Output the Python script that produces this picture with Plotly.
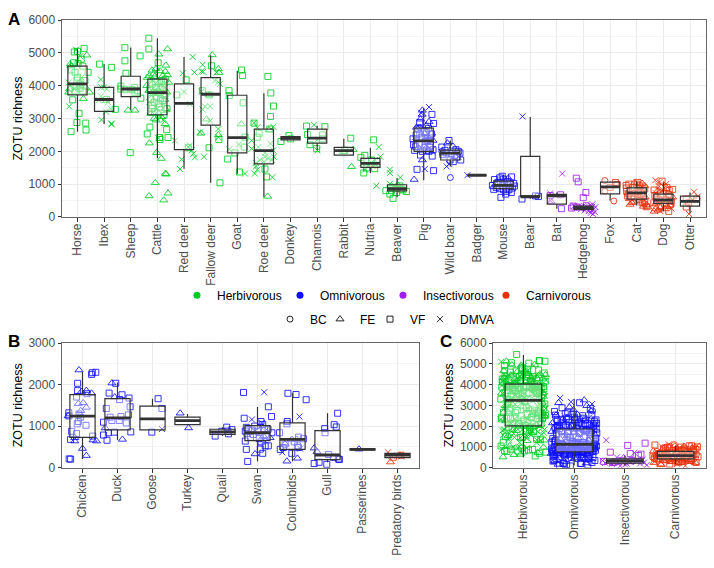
import plotly.graph_objects as go

# ---- panel categories ----
CATS_A = ["Horse", "Ibex", "Sheep", "Cattle", "Red deer", "Fallow deer", "Goat", "Roe deer",
          "Donkey", "Chamois", "Rabbit", "Nutria", "Beaver", "Pig", "Wild boar", "Badger",
          "Mouse", "Bear", "Bat", "Hedgehog", "Fox", "Cat", "Dog", "Otter"]
DIET_A = ["H"] * 13 + ["O"] * 5 + ["I"] * 2 + ["C"] * 4
CATS_B = ["Chicken", "Duck", "Goose", "Turkey", "Quail", "Swan", "Columbids", "Gull",
          "Passerines", "Predatory birds"]
DIET_B = ["O"] * 9 + ["C"]
CATS_C = ["Herbivorous", "Omnivorous", "Insectivorous", "Carnivorous"]
DIET_KEYS = ["H", "O", "I", "C"]

# ---- samples per host: (horizontal jitter in category units, ZOTU richness) ----
horse = dict(
    VF=[(-.12, 5030), (0, 5050), (.25, 5140), (.14, 4810), (.02, 4680), (-.24, 2600), (.32, 2650), (.31, 2860),
        (-.02, 2880), (.06, 3160), (-.18, 3570), (.4, 4410), (0, 4260), (-.02, 4170), (-.09, 4410), (.2, 3840),
        (-.09, 3840), (.1, 3920), (-.05, 3980), (.12, 4050), (.28, 4160), (-.22, 4480), (.2, 4600), (-.15, 4700)],
    FE=[(.35, 4930), (-.27, 4660), (-.33, 3800), (.45, 3800), (.22, 3600), (-.25, 4600), (.3, 3950), (-.3, 3900)],
    DMVA=[(-.31, 3370), (-.05, 5100), (-.33, 4100), (-.27, 4000), (.04, 4050), (-.12, 3900), (.15, 4250), (.1, 4900)])
ibex = dict(
    VF=[(-.17, 4660), (.28, 4560), (.09, 3580), (.42, 3280)],
    DMVA=[(-.1, 2960), (-.12, 3680), (-.2, 3560), (-.1, 3950), (0, 3950), (-.12, 4190), (.03, 3560), (.1, 3900),
          (.15, 3500), (.07, 3210), (.27, 2850), (.28, 2820), (.25, 3300)])
sheep = dict(
    VF=[(-.22, 5160), (-.22, 4760), (.35, 4910), (-.18, 4380), (-.37, 3990), (-.37, 3900), (.15, 3950), (-.22, 3880),
        (.38, 3620), (.15, 3800), (.05, 3880), (-.02, 1960), (.25, 3850)],
    FE=[(-.1, 3250), (.16, 3250)],
    DMVA=[(.02, 3880), (-.08, 3900)])
cattle = dict(
    VF=[(-.32, 5450), (-.32, 5120), (.03, 4700), (-.28, 2740), (-.38, 2530), (.36, 3300), (.35, 2660), (.4, 2420),
        (.08, 2420), (.1, 2360), (-.1, 3200), (.25, 3100), (.28, 3700), (.2, 3550), (-.2, 3300), (-.25, 3600),
        (-.12, 3500), (-.05, 3650), (.05, 3450), (.12, 3600), (-.15, 3800), (-.05, 3950), (.02, 3800), (.1, 3900),
        (.2, 3950), (-.2, 4050), (.3, 4200), (-.08, 4120), (.15, 4150), (-.2, 3400), (.08, 3350), (-.28, 3900)],
    FE=[(.38, 5120), (.05, 4960), (.32, 4620), (-.2, 4470), (-.05, 4520), (.1, 4450), (.3, 4430), (-.3, 4300),
        (.38, 4330), (-.38, 4250), (-.1, 4280), (.2, 4300), (.42, 4100), (-.4, 4000), (-.32, 3850), (.35, 3800),
        (.28, 3580), (.3, 3300), (.15, 3050), (.29, 2840), (-.05, 2950), (-.3, 2250), (-.03, 1960), (.15, 1780),
        (.3, 1320), (.33, 1300), (-.08, 1040), (.4, 720), (-.31, 640), (.24, 510), (-.15, 4350), (.05, 4080),
        (-.25, 3150), (.05, 3150), (-.12, 3000), (.22, 3900)],
    DMVA=[(-.18, 4150), (.08, 4200), (-.05, 3750), (.18, 3700), (-.3, 3500), (.25, 3450), (0, 3300), (-.14, 3220),
          (.12, 3050), (.22, 2950), (.04, 2400), (-.1, 3850), (.12, 4050), (-.22, 3700), (.3, 3950)])
red_deer = dict(
    VF=[(.08, 4180), (-.27, 3720), (.16, 2110)],
    DMVA=[(.325, 4880), (-.05, 4380), (.39, 4410), (0, 3820), (.22, 3450), (-.34, 2330), (.22, 2180), (.16, 2130),
          (.29, 2030), (.41, 1815), (-.09, 1755), (-.15, 1460), (.35, 1930)])
fallow_deer = dict(
    VF=[(.03, 4610), (-.05, 3720), (.31, 2360), (-.06, 2110), (.35, 1040), (-.31, 3850)],
    FE=[(.06, 4940), (.29, 4510), (.31, 4400), (-.15, 2980), (-.36, 2550), (-.06, 3720), (.29, 2500)],
    DMVA=[(-.3, 4640), (-.34, 4440), (-.28, 4430), (.22, 4410), (.16, 4160), (.29, 4110), (.35, 4060), (-.34, 3820),
          (-.21, 3370), (-.02, 3370), (-.3, 3270), (-.02, 2930), (-.4, 2580), (-.25, 1835), (.29, 2680), (.29, 2430)])
goat = dict(
    VF=[(.16, 4480), (.2, 4310), (-.31, 3850), (-.3, 3700), (.22, 3480), (-.36, 1765), (-.09, 1950), (.08, 1370),
        (.26, 2130), (.29, 2430)],
    FE=[(.15, 2830)],
    DMVA=[(.06, 2210), (.29, 1320), (-.3, 2060)])
roe_deer = dict(
    VF=[(.15, 4285), (.26, 3780), (.36, 3380), (.25, 3065), (-.18, 2550), (-.37, 2860), (.22, 2680), (.04, 1460),
        (.1, 1220), (-.25, 2430)],
    FE=[(.14, 625), (.19, 2650)],
    DMVA=[(.35, 2750), (-.37, 2870), (-.25, 2730), (.25, 2230), (-.46, 2330), (-.46, 2080), (-.21, 2130), (.35, 2030),
          (.37, 1835), (.04, 1835), (.29, 1735), (-.15, 1735), (0, 1685), (-.3, 1540), (-.25, 1440), (-.34, 1320),
          (.32, 1210), (.16, 1785), (-.3, 1650), (.05, 1950)])
donkey = dict(VF=[(-.06, 2480), (-.36, 2300), (0, 2380)])
chamois = dict(
    VF=[(-.4, 2770), (.29, 2750), (-.36, 2510), (-.27, 2200), (.2, 2380), (-.02, 2080), (.2, 2500)],
    DMVA=[(-.12, 2810), (.01, 2030), (0, 2350)])
rabbit = dict(
    VF=[(.26, 2400), (.04, 2030)],
    FE=[(.29, 1530), (.35, 2050), (-.02, 1985)])
nutria = dict(
    VF=[(.12, 2350), (-.36, 1815), (-.21, 1875), (-.25, 1340), (.16, 1470), (-.15, 1490), (.04, 1735)],
    DMVA=[(.31, 2130), (.37, 1835), (.22, 950), (.04, 1655), (.16, 1735), (-.21, 1440), (-.09, 1570), (.07, 1560),
          (-.3, 1640), (.2, 1600)])
beaver = dict(
    VF=[(-.42, 800), (.35, 775), (-.15, 565), (-.21, 800), (-.02, 745), (.16, 845), (-.15, 895), (-.27, 695),
        (.1, 945), (.22, 820), (-.05, 880)],
    FE=[(-.21, 945), (.02, 980)],
    DMVA=[(-.27, 1440), (-.27, 1340), (.12, 1200), (-.27, 1010), (.04, 895)])
pig = dict(
    VF=[(.31, 3125), (-.15, 2880), (.37, 2850), (.1, 2580), (.29, 2530), (-.27, 2380), (-.4, 2380), (-.15, 2230),
        (-.34, 2030), (-.12, 1885), (.32, 1855), (-.25, 1450), (.37, 1410), (.22, 2130), (.1, 2030), (-.15, 2530),
        (-.09, 2430), (.16, 2330), (.04, 2130), (-.21, 2680), (.05, 2300), (-.3, 2150), (.25, 2300), (.35, 2050),
        (-.05, 2000), (.18, 2700), (-.28, 2500), (.02, 2600), (.2, 2000), (-.38, 2200)],
    FE=[(-.06, 3125), (-.12, 2980), (.2, 2905), (-.05, 1735), (-.36, 1140), (.35, 2330), (-.27, 2730), (.1, 2780),
        (.04, 2530), (-.05, 3250), (.22, 2400), (-.2, 2100), (.3, 2550)],
    DMVA=[(.2, 3350), (.04, 1460), (-.09, 3170), (.29, 2030), (-.31, 2280), (.1, 2200)],
    BC=[(-.15, 2730), (.08, 2380)])
wild_boar = dict(
    VF=[(.36, 1950), (.39, 1735), (-.05, 2330), (-.32, 2130), (.21, 2050), (-.01, 1735), (.11, 1685), (-.2, 2030),
        (.05, 1930), (.24, 1835), (-.14, 1950), (.17, 1885), (-.28, 1900), (.3, 2000)],
    FE=[(-.11, 2250), (-.26, 1935), (.1, 2150)],
    DMVA=[(-.14, 1540), (-.04, 1610), (.3, 1835)],
    BC=[(0, 1200), (-.32, 2000)])
badger = dict(DMVA=[(-.36, 1270)])
mouse = dict(
    VF=[(.3, 1220), (-.05, 1240), (-.15, 1190), (-.34, 1140), (-.42, 960), (.41, 940), (-.1, 595), (.29, 745),
        (.08, 695), (-.37, 840), (0, 1150), (.15, 1080), (-.2, 1050), (.25, 1000), (-.28, 900), (-.05, 950),
        (.1, 950), (.33, 880), (.2, 830), (-.15, 860), (0, 830), (.38, 1020), (-.25, 1030), (.12, 780)],
    FE=[(-.3, 1000), (.18, 1180)],
    DMVA=[(.05, 1050)])
bear = dict(
    VF=[(-.31, 545), (.31, 625), (.2, 640)],
    DMVA=[(-.29, 3065)])
bat = dict(
    VF=[(.14, 675), (.17, 250), (-.25, 650)],
    FE=[(-.22, 470)],
    DMVA=[(.2, 1320), (-.25, 715), (-.24, 495)])
hedgehog = dict(
    VF=[(-.27, 1180), (-.2, 1070), (.09, 745), (-.01, 585), (-.39, 330), (-.25, 300), (.1, 340), (-.45, 270)],
    DMVA=[(.34, 390), (.42, 150), (.24, 250), (.33, 310), (.38, 230), (.27, 120), (.15, 290), (.2, 180), (.05, 200),
          (-.05, 310), (-.1, 230), (-.18, 330), (-.3, 290), (.1, 250), (.3, 190), (.45, 300), (-.35, 340), (.36, 90),
          (.28, 340), (-.15, 280), (0, 270), (.2, 320)])
fox = dict(
    VF=[(.26, 990), (0, 900), (.2, 1050)],
    BC=[(-.2, 1110), (-.2, 785), (.14, 485)])
cat = dict(
    VF=[(-.4, 960), (-.38, 880), (-.38, 780), (-.3, 700), (.04, 1050), (.05, 810), (.3, 470), (.36, 310),
        (.1, 950), (-.1, 900), (.25, 720), (-.2, 620), (.2, 430), (-.3, 1000), (0, 1000), (.3, 850), (-.35, 640)],
    FE=[(-.25, 380), (-.12, 470), (.32, 600), (.2, 1020), (.05, 740), (-.28, 550), (.1, 500), (.38, 360), (-.05, 680),
        (.42, 300), (.15, 800), (-.18, 430), (.25, 320), (.3, 950), (-.1, 1040), (.12, 640)],
    DMVA=[(.2, 900), (-.2, 760)],
    BC=[(.18, 650), (.3, 400), (-.1, 580), (.05, 620), (.22, 430)])
dog = dict(
    VF=[(-.05, 1090), (.35, 840), (.22, 810), (-.35, 820), (-.1, 700), (.2, 680), (-.32, 650), (.2, 170), (.1, 520),
        (-.25, 540), (.05, 400), (-.1, 350), (.3, 480), (-.36, 430), (.13, 900)],
    FE=[(.1, 850), (-.3, 240), (-.2, 200), (-.35, 170), (.15, 320), (-.12, 280), (.05, 240), (.25, 360), (-.28, 420),
        (.35, 600), (-.08, 900), (.18, 510), (-.22, 790)],
    DMVA=[(-.3, 1120), (-.15, 1060), (-.2, 960), (.1, 1000), (-.05, 780), (.26, 430), (-.1, 500), (.08, 640),
          (-.28, 720), (.3, 260), (-.12, 180)],
    BC=[(.2, 640), (-.18, 560), (.28, 350)])
otter = dict(
    VF=[(-.14, 545), (-.14, 300), (.24, 545), (-.05, 430)],
    DMVA=[(.15, 765), (.3, 625), (-.04, 90), (.1, 520)])

chicken = dict(
    VF=[(.28, 2285), (.26, 2245), (.38, 2295), (-.14, 2030), (-.14, 1855), (-.17, 1700), (.13, 1780), (-.39, 1320),
        (-.39, 1245), (-.1, 1290), (-.06, 1215), (.1, 1020), (-.15, 1055), (-.12, 1110), (-.31, 875), (-.17, 820),
        (-.34, 680), (.29, 760), (-.38, 210), (-.34, 205)],
    FE=[(-.1, 2350), (.11, 1855), (.26, 1790), (-.03, 1830), (-.12, 1540), (.02, 1560), (.11, 1450), (-.05, 1370),
        (-.22, 640), (.3, 665), (.4, 640), (0, 460), (.11, 290), (-.22, 720), (-.41, 1245)])
duck = dict(
    VF=[(-.05, 2030), (-.24, 1795), (.13, 1755), (.33, 1675), (.06, 1640), (.36, 1465), (-.32, 1425), (.31, 1270),
        (.1, 1230), (-.21, 1215), (-.4, 1095), (-.16, 1135), (.05, 1135), (.25, 1075), (.38, 860), (-.09, 855),
        (-.26, 840), (-.4, 785), (-.3, 660)],
    FE=[(-.16, 2035), (-.08, 1700), (.14, 680), (-.35, 955)])
goose = dict(
    VF=[(.16, 1660), (.27, 1425), (-.02, 855)],
    DMVA=[(.27, 930)])
turkey = dict(FE=[(-.21, 1310), (.03, 955)])
quail = dict(VF=[(.12, 975), (.17, 815), (-.21, 760), (.27, 915), (-.02, 875), (.15, 880)])
swan = dict(
    VF=[(-.4, 1810), (.31, 1465), (.4, 1230), (-.38, 1190), (.1, 1110), (-.32, 970), (-.26, 915), (-.35, 640),
        (-.32, 440), (-.28, 150), (.15, 345), (.08, 445), (.22, 525), (.31, 525), (.41, 840), (-.12, 800), (-.3, 820),
        (0, 880), (.2, 940), (.25, 780), (-.2, 730), (.05, 700), (-.08, 1000), (.15, 1040), (.3, 920), (-.35, 880),
        (.1, 620), (-.15, 900)],
    FE=[(-.07, 330), (.36, 720), (.17, 760)],
    DMVA=[(.19, 1815), (-.16, 1160), (.12, 1075), (.26, 915), (-.26, 800), (-.07, 875), (.08, 990), (.17, 680)])
columbids = dict(
    VF=[(-.13, 1790), (.1, 1760), (.39, 1635), (-.15, 1110), (-.16, 1055), (-.37, 840), (.31, 695), (.17, 735),
        (-.35, 440), (-.26, 485), (-.02, 345), (.14, 525), (-.21, 565), (.17, 485), (.05, 620)],
    FE=[(-.16, 155), (.14, 225), (-.21, 570), (-.02, 680), (.12, 680)],
    DMVA=[(.2, 1230), (-.29, 370), (.22, 460)])
gull = dict(
    VF=[(.29, 1310), (.19, 1035), (.25, 980), (-.08, 940), (-.07, 840), (-.38, 100), (-.24, 130), (-.02, 80),
        (.03, 315), (.34, 195), (.31, 210), (.17, 250)],
    FE=[(-.38, 470), (-.3, 385)])
passerines = dict(FE=[(-.1, 445)])
predatory_birds = dict(
    VF=[(-.12, 250), (.1, 300)],
    FE=[(-.2, 135), (.07, 290)],
    DMVA=[(-.27, 370), (-.17, 290), (.12, 270)])

SAMPLES_A = [horse, ibex, sheep, cattle, red_deer, fallow_deer, goat, roe_deer, donkey, chamois, rabbit, nutria,
             beaver, pig, wild_boar, badger, mouse, bear, bat, hedgehog, fox, cat, dog, otter]
SAMPLES_B = [chicken, duck, goose, turkey, quail, swan, columbids, gull, passerines, predatory_birds]

# ---- box statistics: lower whisker, Q1, median, Q3, upper whisker ----
LOW_A = [2600, 2830, 3250, 1790, 1470, 1040, 1310, 610, 2330, 2030, 1885, 1340, 600, 1120, 1540, 1270, 640, 550,
         250, 180, 500, 350, 170, 100]
Q1_A = [3720, 3220, 3670, 3115, 2050, 2800, 1950, 1620, 2350, 2250, 1885, 1510, 795, 2000, 1735, 1270, 860, 615,
        390, 230, 705, 545, 415, 330]
MED_A = [4060, 3580, 3900, 3790, 3460, 3740, 2420, 2020, 2400, 2400, 2020, 1630, 860, 2320, 1945, 1270, 960, 615,
         645, 280, 915, 735, 515, 475]
Q3_A = [4600, 3950, 4290, 4200, 4060, 4250, 3710, 2680, 2450, 2680, 2120, 1785, 980, 2710, 2035, 1270, 1090, 1845,
        685, 330, 1060, 885, 695, 635]
HIGH_A = [5130, 4660, 5170, 5450, 4880, 4930, 4460, 3770, 2460, 2780, 2380, 2110, 1190, 3320, 2330, 1270, 1290,
          3045, 745, 400, 1090, 1090, 1060, 745]
LOW_B = [210, 665, 910, 1035, 760, 155, 155, 130, 430, 240]
Q1_B = [730, 910, 910, 1035, 800, 650, 440, 195, 425, 240]
MED_B = [1240, 1200, 1175, 1130, 860, 840, 680, 305, 440, 300]
Q3_B = [1760, 1660, 1480, 1215, 925, 1010, 1080, 890, 455, 345]
HIGH_B = [2300, 2050, 1660, 1290, 975, 1460, 1790, 1310, 455, 345]
LOW_C = [500, 110, 110, 160]
Q1_C = [2015, 765, 220, 420]
MED_C = [3235, 1125, 330, 580]
Q3_C = [4020, 1860, 420, 780]
HIGH_C = [5420, 3310, 580, 1050]

# ---- styling ----
COLORS = {"H": "#00CD22", "O": "#1010FF", "I": "#A020F0", "C": "#E8300A"}
DIET_NAMES = dict(zip(DIET_KEYS, CATS_C))
SYMBOLS = {"BC": "circle-open", "FE": "triangle-up-open", "VF": "square-open", "DMVA": "x-thin-open"}
SIZES = {"BC": 6, "FE": 7, "VF": 6, "DMVA": 6}
FONT = "Liberation Sans"
TICK_GREY = "#4d4d4d"
W, H = 714, 568


def scatter_traces(samples, diets, xa, ya):
    """One trace per diet and sampling method, drawn on the panel's base axes."""
    traces = []
    for diet in DIET_KEYS:
        for method in SYMBOLS:
            xs, ys = [], []
            for i, group in enumerate(samples):
                if diets[i] != diet:
                    continue
                for dx, y in group.get(method, []):
                    xs.append(i + dx)
                    ys.append(y)
            if xs:
                traces.append(go.Scatter(
                    x=xs, y=ys, mode="markers", xaxis=xa, yaxis=ya, showlegend=False, hoverinfo="skip",
                    marker=dict(symbol=SYMBOLS[method], size=SIZES[method], color=COLORS[diet], opacity=0.85,
                                line=dict(width=1, color=COLORS[diet]))))
    return traces


def box_traces(low, q1, med, q3, high, xa, ya):
    """Boxes with whiskers, then a second zero-height box that thickens the median."""
    xs = list(range(len(med)))
    body = go.Box(x=xs, lowerfence=low, q1=q1, median=med, q3=q3, upperfence=high, width=0.72, whiskerwidth=0,
                  boxpoints=False, xaxis=xa, yaxis=ya, showlegend=False, hoverinfo="skip",
                  fillcolor="rgba(255,255,255,0.4)", line=dict(color="#333333", width=1.2))
    median = go.Box(x=xs, lowerfence=med, q1=med, median=med, q3=med, upperfence=med, width=0.72, whiskerwidth=0,
                    boxpoints=False, xaxis=xa, yaxis=ya, showlegend=False, hoverinfo="skip",
                    fillcolor="rgba(0,0,0,0)", line=dict(color="#333333", width=2.8))
    return [body, median]


def pooled_by_diet():
    """Panel C pools every host by diet; points are spread evenly across the box width."""
    pooled = {d: {m: [] for m in SYMBOLS} for d in DIET_KEYS}
    counter = {d: 0 for d in DIET_KEYS}
    for samples, diets in ((SAMPLES_A, DIET_A), (SAMPLES_B, DIET_B)):
        for group, diet in zip(samples, diets):
            pts = [(m, y) for m, vals in group.items() for _, y in vals]
            for m, y in pts:
                counter[diet] += 1
                spread = (counter[diet] * 0.6180339887) % 1.0
                pooled[diet][m].append((0.9 * (spread - 0.5), y))
    return pooled


fig = go.Figure()

# Panel A
fig.add_traces(scatter_traces(SAMPLES_A, DIET_A, "x", "y"))
fig.add_traces(box_traces(LOW_A, Q1_A, MED_A, Q3_A, HIGH_A, "x4", "y4"))
# Panel B
fig.add_traces(scatter_traces(SAMPLES_B, DIET_B, "x2", "y2"))
fig.add_traces(box_traces(LOW_B, Q1_B, MED_B, Q3_B, HIGH_B, "x5", "y5"))
# Panel C
pooled = pooled_by_diet()
fig.add_traces(scatter_traces([pooled[d] for d in DIET_KEYS], DIET_KEYS, "x3", "y3"))
fig.add_traces(box_traces(LOW_C, Q1_C, MED_C, Q3_C, HIGH_C, "x6", "y6"))

# Legend-only traces
for d in DIET_KEYS:
    fig.add_trace(go.Scatter(x=[None], y=[None], mode="markers", name=DIET_NAMES[d], legend="legend",
                             marker=dict(symbol="circle", size=7, color=COLORS[d])))
for m in SYMBOLS:
    fig.add_trace(go.Scatter(x=[None], y=[None], mode="markers", name=m, legend="legend2",
                             marker=dict(symbol=SYMBOLS[m], size=SIZES[m], color="#222222",
                                         line=dict(width=1, color="#222222"))))
# Fixed entry widths clip the last label, so each legend ends with a blank spacer entry
for legend_id in ("legend", "legend2"):
    fig.add_trace(go.Scatter(x=[None], y=[None], mode="markers", name=" ", legend=legend_id,
                             marker=dict(size=1, color="rgba(0,0,0,0)")))


def x_axis(cats, left, right):
    n = len(cats)
    return dict(domain=[left / W, right / W], range=[-0.6, n - 0.4], tickmode="array", tickvals=list(range(n)),
                ticktext=cats, tickangle=-90, ticks="outside", ticklen=4, tickwidth=1, tickcolor="#333333",
                ticklabelstandoff=-3,
                tickfont=dict(size=12, color=TICK_GREY, family=FONT), showgrid=True, gridcolor="#ebebeb",
                gridwidth=1, zeroline=False, showline=True, mirror=True, linecolor="#666666", linewidth=1)


def y_axis(top, bottom, ymax, standoff=3):
    return dict(domain=[1 - bottom / H, 1 - top / H], range=[0, ymax], tickmode="linear", tick0=0, dtick=1000,
                ticks="outside", ticklen=3, tickwidth=1, tickcolor="#333333",
                tickfont=dict(size=12, color=TICK_GREY, family=FONT), showgrid=True, gridcolor="#ebebeb",
                gridwidth=1, zeroline=False, showline=True, mirror=True, linecolor="#666666", linewidth=1,
                minor=dict(dtick=500, showgrid=True, gridcolor="#f4f4f4", gridwidth=0.7),
                title=dict(text="ZOTU richness", standoff=standoff, font=dict(size=12.5, color="black", family=FONT)))


def overlay(base_axis, rng):
    return dict(overlaying=base_axis, range=rng, visible=False)


fig.update_layout(
    width=W, height=H, margin=dict(l=0, r=0, t=0, b=0), paper_bgcolor="white", plot_bgcolor="white",
    boxmode="overlay", font=dict(family=FONT, size=12, color="black"),
    xaxis=x_axis(CATS_A, 61.5, 706), yaxis=y_axis(13.5, 215.2, 6000),
    xaxis2=x_axis(CATS_B, 61.5, 418.5), yaxis2=dict(y_axis(344.5, 472.3, 3000)),
    xaxis3=x_axis(CATS_C, 493, 706), yaxis3=y_axis(344.5, 472.3, 6000),
    xaxis4=overlay("x", [-0.6, 23.6]), yaxis4=overlay("y", [0, 6000]),
    xaxis5=overlay("x2", [-0.6, 9.6]), yaxis5=overlay("y2", [0, 3000]),
    xaxis6=overlay("x3", [-0.6, 3.6]), yaxis6=overlay("y3", [0, 6000]),
    legend=dict(orientation="h", x=177 / W, y=1 - 295.5 / H, xanchor="left", yanchor="middle",
                font=dict(size=12, color="black", family=FONT), bgcolor="rgba(0,0,0,0)", itemwidth=30,
                entrywidth=58, entrywidthmode="pixels"),
    legend2=dict(orientation="h", x=270 / W, y=1 - 320 / H, xanchor="left", yanchor="middle",
                 font=dict(size=12, color="black", family=FONT), bgcolor="rgba(0,0,0,0)", itemwidth=30,
                 entrywidth=5, entrywidthmode="pixels"),
    annotations=[
        dict(text=f"<b>{t}</b>", x=x / W, y=1 - y / H, xref="paper", yref="paper", xanchor="left", yanchor="middle",
             showarrow=False, font=dict(size=17, color="black", family=FONT))
        for t, x, y in (("A", 6, 13), ("B", 6, 343), ("C", 438, 343))
    ],
)
fig.layout.xaxis2.anchor = "y2"
fig.layout.yaxis2.anchor = "x2"
fig.layout.xaxis3.anchor = "y3"
fig.layout.yaxis3.anchor = "x3"

fig.write_html("out.html")
